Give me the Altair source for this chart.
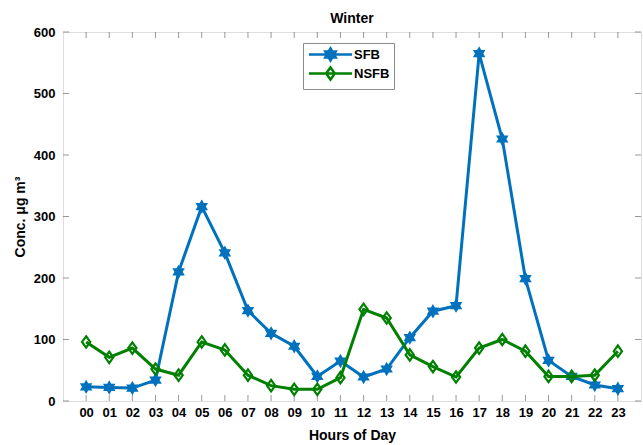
import math

import altair as alt
import pandas as pd

# Hourly winter concentrations for the two source groups
hour_labels = [f"{h:02d}" for h in range(24)]
sfb = [23, 22, 21, 34, 210, 316, 241, 147, 110, 89, 40, 65,
       39, 52, 103, 146, 155, 565, 426, 199, 66, 40, 26, 20]
nsfb = [96, 71, 86, 52, 42, 96, 83, 42, 25, 19, 19, 38,
        149, 135, 75, 56, 39, 86, 100, 81, 40, 40, 42, 81]
series_names = ["SFB", "NSFB"]
series_colors = ["#0072BD", "#008000"]
y_ticks = [0, 100, 200, 300, 400, 500, 600]

FONT = "Liberation Sans"
BOX = "#6e6e6e"


def star_path(points, inner):
    """Closed star outline on the unit circle, first point facing up."""
    pts = []
    for k in range(points * 2):
        ang = math.pi * k / points - math.pi / 2
        r = 1.0 if k % 2 == 0 else inner
        pts.append((r * math.cos(ang), r * math.sin(ang)))
    return "M" + "L".join(f"{x:.3f},{y:.3f}" for x, y in pts) + "Z"


hexagram = star_path(6, 1 / math.sqrt(3))
diamond = "M0,-1L0.72,0L0,1L-0.72,0Z"
legend_line = "M-3.6,0L3.6,0"

df = pd.DataFrame({
    "hour": hour_labels * 2,
    "value": sfb + nsfb,
    "series": ["SFB"] * len(sfb) + ["NSFB"] * len(nsfb),
})

x_enc = alt.X(
    "hour:O",
    sort=hour_labels,
    scale=alt.Scale(domain=hour_labels, type="point", padding=1),
    axis=alt.Axis(
        title="Hours of Day", labelAngle=0, ticks=False, domain=False,
        labelFont=FONT, labelFontSize=13, labelFontWeight="bold", labelColor="black",
        labelPadding=5, titleFont=FONT, titleFontSize=14, titleFontWeight="bold",
        titleColor="black", titlePadding=9,
    ),
)
y_enc = alt.Y(
    "value:Q",
    scale=alt.Scale(domain=[0, 600], nice=False, zero=True),
    axis=alt.Axis(
        title="Conc. μg m³", values=y_ticks, ticks=False, domain=False, grid=False,
        labelFont=FONT, labelFontSize=13, labelFontWeight="bold", labelColor="black",
        labelPadding=8, titleFont=FONT, titleFontSize=14, titleFontWeight="bold",
        titleColor="black", titlePadding=6,
    ),
)


def series_layers(name, color, shape, filled, stroke_width):
    """Line plus markers for one series."""
    base = alt.Chart(df).transform_filter(alt.datum.series == name)
    line = base.mark_line(strokeWidth=3, color=color).encode(x=x_enc, y=y_enc)
    if filled:
        pts = base.mark_point(shape=shape, size=130, fill=color, stroke=color,
                              strokeWidth=stroke_width, opacity=1, filled=True)
    else:
        pts = base.mark_point(shape=shape, size=130, stroke=color,
                              strokeWidth=stroke_width, opacity=1, filled=False)
    return [line, pts.encode(x=x_enc, y=y_enc)]


sfb_layers = series_layers("SFB", series_colors[0], hexagram, True, 1.5)
nsfb_layers = series_layers("NSFB", series_colors[1], diamond, False, 2.2)

# Inward ticks on all four sides of the box
hour_df = pd.DataFrame({"hour": hour_labels})
ytick_df = pd.DataFrame({"value": y_ticks})
tick_bottom = alt.Chart(hour_df).mark_tick(
    orient="vertical", size=6, thickness=1, color=BOX, yOffset=-3
).encode(x=x_enc, y=alt.value("height"))
tick_top = alt.Chart(hour_df).mark_tick(
    orient="vertical", size=6, thickness=1, color=BOX, yOffset=3
).encode(x=x_enc, y=alt.value(0))
tick_left = alt.Chart(ytick_df).mark_tick(
    orient="horizontal", size=6, thickness=1, color=BOX, xOffset=3
).encode(y=y_enc, x=alt.value(0))
tick_right = alt.Chart(ytick_df).mark_tick(
    orient="horizontal", size=6, thickness=1, color=BOX, xOffset=-3
).encode(y=y_enc, x=alt.value("width"))

# Legend: line-with-marker symbols driven by the series scales;
# the layer's own points have zero size, only its legend is shown
legend_spec = alt.Legend(
    title=None, orient="none", legendX=240, legendY=11,
    labelFont=FONT, labelFontSize=13, labelFontWeight="bold", labelColor="black",
    symbolSize=144, symbolStrokeWidth=2.5, symbolOffset=16, labelOffset=16,
    symbolOpacity=1,
    strokeColor="#8c8c8c", fillColor="white", padding=4, rowPadding=-8,
)
legend_layer = alt.Chart(df).mark_point(opacity=1, size=0).encode(
    x=x_enc,
    y=y_enc,
    shape=alt.Shape("series:N", scale=alt.Scale(
        domain=series_names, range=[legend_line + hexagram, legend_line + diamond]),
        legend=legend_spec),
    stroke=alt.Stroke("series:N", scale=alt.Scale(domain=series_names, range=series_colors),
                      legend=legend_spec),
    fill=alt.Fill("series:N", scale=alt.Scale(
        domain=series_names, range=[series_colors[0], "transparent"]), legend=legend_spec),
)

chart = alt.layer(
    tick_bottom, tick_top, tick_left, tick_right,
    *sfb_layers, *nsfb_layers, legend_layer,
).properties(
    width=578,
    height=369,
    title=alt.TitleParams("Winter", font=FONT, fontSize=14, fontWeight="bold",
                          color="black", offset=0, anchor="middle"),
    autosize=alt.AutoSizeParams(type="none"),
    padding={"left": 63, "top": 32, "right": 2, "bottom": 44},
).configure_view(
    stroke=BOX, strokeWidth=1
).configure(background="white")

chart.save("out.html", embed_options={"renderer": "svg", "actions": False})
